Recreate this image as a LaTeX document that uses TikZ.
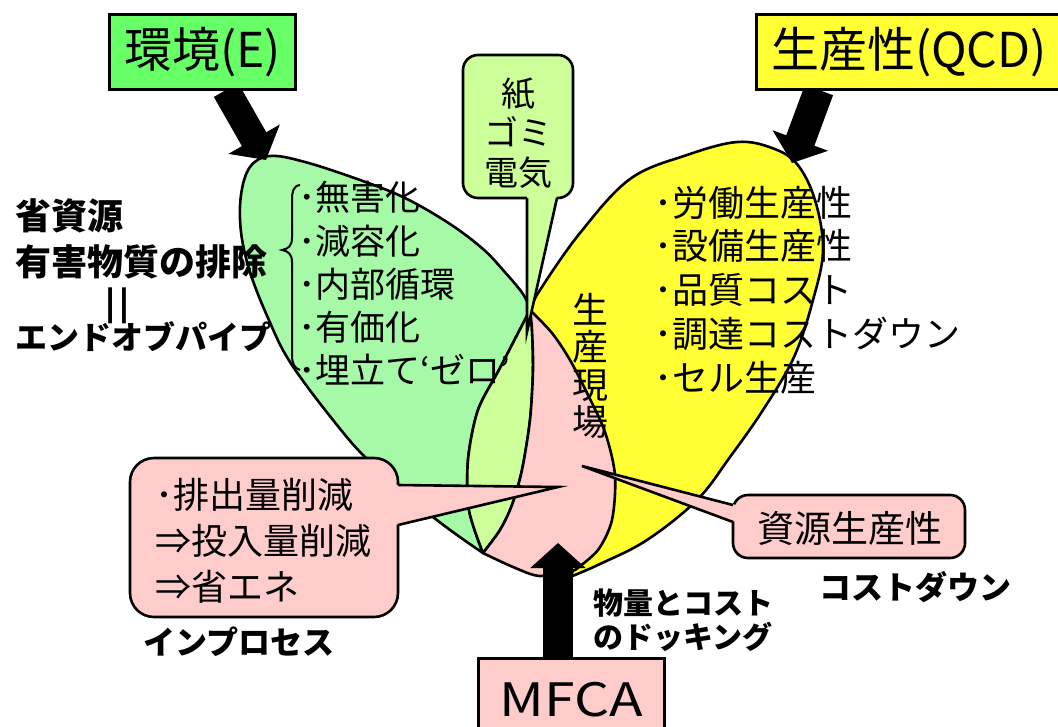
\documentclass[tikz,border=0pt]{standalone}
\usepackage{fontspec}
\setmainfont{Noto Sans CJK JP}
\usetikzlibrary{arrows.meta}
\definecolor{leafgreen}{HTML}{A6F9A6}
\definecolor{lensgreen}{HTML}{CCFF99}
\definecolor{leafyellow}{HTML}{FFFF33}
\definecolor{leafpink}{HTML}{FFCCCC}
\definecolor{boxgreen}{HTML}{66FF66}
\newcommand{\fsz}[2]{\fontsize{#1}{#2}\selectfont}
\begin{document}
\begin{tikzpicture}[x=1pt,y=-1pt,
  outl/.style={draw=black,line width=2.6pt,line join=round},
  cline/.style={draw=black,line width=2.6pt,line join=miter},
  fatarrow/.style={draw=black,line width=#1,-{Triangle[length=24pt,width=58pt]}},
  hdbox/.style={draw=black,line width=3pt,inner sep=0pt,anchor=north west,minimum height=75pt},
  txt/.style={inner sep=0pt,text=black}]
\useasboundingbox (0,0) rectangle (1058,726);

% ---------- leaves ----------
\draw[outl, fill=leafgreen]
  plot[smooth, tension=0.6] coordinates {(530,310) (523,294) (503,270) (483,249) (450,224) (405,198) (360,180) (305,162) (270,156) (250,167) (241,195) (241,232) (250,272) (268,318) (290,362) (333,420) (370,462) (433,517) (483,553)}
  -- plot[smooth] coordinates {(483,553) (469,510) (468,460) (478,410) (500,368) (530,310)} -- cycle;

\draw[outl, fill=leafyellow]
  plot[smooth, tension=0.6] coordinates {(530,310) (540,290) (580,233) (630,179) (687,155) (737,142) (772,148) (797,164) (815,200) (823,250) (813,300) (794,357) (763,410) (730,457) (697,500) (647,540) (600,564) (570,577)}
  -- plot[smooth] coordinates {(570,577) (600,500) (590,400) (530,310)} -- cycle;

\draw[outl, fill=lensgreen]
  plot[smooth] coordinates {(530,310) (500,368) (478,410) (468,460) (469,510) (483,553)}
  -- plot[smooth] coordinates {(483,553) (500,530) (512,505) (522,470) (530,420) (533,370) (532,330) (530,310)} -- cycle;

\draw[outl, fill=leafpink]
  plot[smooth] coordinates {(530,310) (552,333) (570,360) (588,395) (605,432) (615,475) (612,520) (598,550) (575,570)}
  -- plot[smooth] coordinates {(575,570) (540,576) (513,567) (483,553)}
  -- plot[smooth] coordinates {(483,553) (500,530) (512,505) (522,470) (530,420) (533,370) (532,330) (530,310)} -- cycle;

% ---------- callouts ----------
% paper / garbage / electricity
\draw[cline, fill=lensgreen, rounded corners=15pt] (463,55) rectangle (573,198);
\fill[lensgreen] (527,195) -- (527,332) -- (557,195) -- cycle;
\draw[cline] (527,198) -- (527,332) -- (557,198);

% in-process
\draw[cline, fill=leafpink, rounded corners=24pt] (130,458) rectangle (398,617);
\fill[leafpink] (395,485) -- (558,487) -- (395,525) -- cycle;
\draw[cline] (398,485) -- (558,487) -- (398,525);

% resource productivity
\draw[cline, fill=leafpink, rounded corners=15pt] (733,495) rectangle (965,558);
\fill[leafpink] (736,505) -- (582,466) -- (736,522) -- cycle;
\draw[cline] (733,505) -- (582,466) -- (733,522);

% brace
\draw[line width=2pt] (300,185) .. controls (293,186) and (292,192) .. (292,200)
  -- (292,238) .. controls (292,246) and (288,249) .. (282,250)
  .. controls (288,251) and (292,254) .. (292,262)
  -- (292,355) .. controls (292,363) and (294,368) .. (300,370);

% ---------- arrows ----------
\coordinate (gstart) at (226,90);
\coordinate (gtip) at (266,160);
\coordinate (ystart) at (819,90);
\coordinate (ytip) at (792,163);
\coordinate (mstart) at (558,662);
\coordinate (mtip) at (558,543);
\draw[fatarrow=28pt] (gstart) -- (gtip);
\draw[fatarrow=30pt] (ystart) -- (ytip);
\draw[draw=black,line width=30pt,-{Triangle[length=25pt,width=54pt]}] (mstart) -- (mtip);

% ---------- header boxes ----------
\node[hdbox, fill=boxgreen, minimum width=186pt, font=\fsz{48}{52}] (env) at (108,13) {環境(E)};
\node[hdbox, fill=leafyellow, minimum width=305pt, font=\fsz{48}{52}] (qcd) at (755,13) {生産性(QCD)};
\node[hdbox, fill=leafpink, minimum width=186pt, minimum height=82pt, font=\fsz{46}{50}] (mfca) at (477,657) {\scalebox{1.2}[1]{MFCA}};

% ---------- texts ----------
\node[txt, anchor=west, font=\fsz{36}{40}\bfseries] (t1) at (15,216) {省資源};
\node[txt, anchor=west, font=\fsz{36}{40}\bfseries] (t2) at (15,262) {有害物質の排除};
\node[txt, font=\fsz{30}{32}\bfseries] (t3) at (117,306) {\scalebox{2.8}[1.2]{‖}};
\node[txt, anchor=west, font=\fsz{32}{36}\bfseries] (t4) at (15,337) {エンドオブパイプ};

\node[txt, anchor=west, align=left, font=\fsz{35}{43.25}] (glist) at (298,283.5)
  {･無害化\\･減容化\\･内部循環\\･有価化\\･埋立て‘ゼロ’};
\node[txt, anchor=west, align=left, font=\fsz{36}{43.75}] (ylist) at (654,290)
  {･労働生産性\\･設備生産性\\･品質コスト\\･調達コストダウン\\･セル生産};
\node[txt, align=center, font=\fsz{34}{39.5}] (paper) at (518,133) {紙\\ゴミ\\電気};
\node[txt, align=center, font=\fsz{36}{37.5}] (site) at (590,366) {生\\産\\現\\場};
\node[txt, anchor=west, align=left, font=\fsz{36}{46}] (plist) at (155,541)
  {･排出量削減\\⇒投入量削減\\⇒省エネ};
\node[txt, font=\fsz{37}{40}] (rp) at (850,528) {資源生産性};
\node[txt, font=\fsz{32}{36}\bfseries] (cd) at (915,587) {コストダウン};
\node[txt, anchor=west, align=left, font=\fsz{30}{34}\bfseries] (dock) at (593,620) {物量とコスト\\のドッキング};
\node[txt, font=\fsz{32}{36}\bfseries] (inp) at (239,642) {インプロセス};
\end{tikzpicture}
\end{document}
